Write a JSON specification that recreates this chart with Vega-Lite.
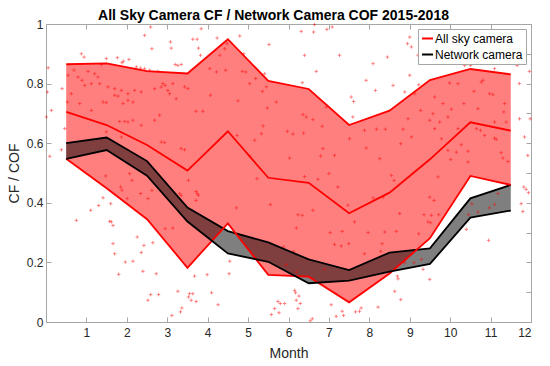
{
  "$schema": "https://vega.github.io/schema/vega-lite/v6.json",
  "autosize": {"type": "none"},
  "width": 485,
  "height": 298,
  "padding": {"left": 46, "top": 24, "right": 19, "bottom": 44},
  "background": "white",
  "title": {"text": "All Sky Camera CF / Network Camera COF 2015-2018", "font": "Liberation Sans", "fontSize": 14, "fontWeight": "bold", "color": "#000000", "anchor": "middle", "dx": -15, "dy": 9, "offset": 4},
  "config": {
    "view": {"stroke": "#a6a6a6", "strokeWidth": 1},
    "font": "Liberation Sans",
    "axis": {"grid": false, "domainColor": "#a6a6a6", "tickColor": "#a6a6a6", "tickSize": -5, "labelColor": "#262626", "labelFontSize": 12, "labelFont": "Liberation Sans", "titleFont": "Liberation Sans", "titleFontSize": 14, "titleFontWeight": "normal", "titleColor": "#262626"}
  },
  "datasets": {
    "bands": [
      {"month": 0.5, "series": "All sky camera", "lo": 0.548, "hi": 0.865, "mid": 0.705},
      {"month": 1.5, "series": "All sky camera", "lo": 0.449, "hi": 0.868, "mid": 0.661},
      {"month": 2.5, "series": "All sky camera", "lo": 0.345, "hi": 0.842, "mid": 0.594},
      {"month": 3.5, "series": "All sky camera", "lo": 0.182, "hi": 0.834, "mid": 0.508},
      {"month": 4.5, "series": "All sky camera", "lo": 0.331, "hi": 0.949, "mid": 0.640},
      {"month": 5.5, "series": "All sky camera", "lo": 0.158, "hi": 0.809, "mid": 0.484},
      {"month": 6.5, "series": "All sky camera", "lo": 0.152, "hi": 0.782, "mid": 0.467},
      {"month": 7.5, "series": "All sky camera", "lo": 0.066, "hi": 0.661, "mid": 0.365},
      {"month": 8.5, "series": "All sky camera", "lo": 0.163, "hi": 0.709, "mid": 0.434},
      {"month": 9.5, "series": "All sky camera", "lo": 0.281, "hi": 0.812, "mid": 0.546},
      {"month": 10.5, "series": "All sky camera", "lo": 0.490, "hi": 0.849, "mid": 0.670},
      {"month": 11.5, "series": "All sky camera", "lo": 0.460, "hi": 0.831, "mid": 0.642},
      {"month": 0.5, "series": "Network camera", "lo": 0.547, "hi": 0.600, "mid": null},
      {"month": 1.5, "series": "Network camera", "lo": 0.577, "hi": 0.619, "mid": null},
      {"month": 2.5, "series": "Network camera", "lo": 0.491, "hi": 0.540, "mid": null},
      {"month": 3.5, "series": "Network camera", "lo": 0.337, "hi": 0.384, "mid": null},
      {"month": 4.5, "series": "Network camera", "lo": 0.230, "hi": 0.305, "mid": null},
      {"month": 5.5, "series": "Network camera", "lo": 0.202, "hi": 0.267, "mid": null},
      {"month": 6.5, "series": "Network camera", "lo": 0.130, "hi": 0.210, "mid": null},
      {"month": 7.5, "series": "Network camera", "lo": 0.139, "hi": 0.174, "mid": null},
      {"month": 8.5, "series": "Network camera", "lo": 0.169, "hi": 0.233, "mid": null},
      {"month": 9.5, "series": "Network camera", "lo": 0.195, "hi": 0.247, "mid": null},
      {"month": 10.5, "series": "Network camera", "lo": 0.350, "hi": 0.415, "mid": null},
      {"month": 11.5, "series": "Network camera", "lo": 0.374, "hi": 0.460, "mid": null}
    ],
    "points": [
      {"month":0.053,"cf":0.853},{"month":0.398,"cf":0.783},{"month":0.036,"cf":0.772},{"month":0.135,"cf":0.710},{"month":0.01,"cf":0.688},{"month":0.382,"cf":0.578},{"month":0.094,"cf":0.556},{"month":0.876,"cf":0.900},{"month":0.942,"cf":0.889},{"month":1.493,"cf":0.884},{"month":1.765,"cf":0.887},{"month":1.880,"cf":0.870},{"month":1.913,"cf":0.875},{"month":2.053,"cf":0.881},{"month":2.440,"cf":0.962},{"month":2.588,"cf":0.990},{"month":2.621,"cf":0.917},{"month":3.082,"cf":0.940},{"month":3.098,"cf":0.919},{"month":3.197,"cf":0.864},{"month":3.262,"cf":0.861},{"month":3.345,"cf":0.864},{"month":3.633,"cf":0.949},{"month":3.740,"cf":0.949},{"month":3.773,"cf":0.919},{"month":3.822,"cf":0.895},{"month":3.839,"cf":0.984},{"month":2.234,"cf":0.856},{"month":2.341,"cf":0.852},{"month":2.440,"cf":0.850},{"month":2.563,"cf":0.845},{"month":2.768,"cf":0.841},{"month":1.370,"cf":0.864},{"month":1.040,"cf":0.841},{"month":1.205,"cf":0.833},{"month":1.287,"cf":0.822},{"month":0.695,"cf":0.845},{"month":0.547,"cf":0.828},{"month":0.793,"cf":0.822},{"month":0.892,"cf":0.811},{"month":0.958,"cf":0.794},{"month":1.123,"cf":0.800},{"month":1.328,"cf":0.800},{"month":1.534,"cf":0.789},{"month":1.699,"cf":0.783},{"month":1.864,"cf":0.777},{"month":2.028,"cf":0.766},{"month":2.193,"cf":0.777},{"month":2.357,"cf":0.772},{"month":2.687,"cf":0.783},{"month":2.851,"cf":0.789},{"month":2.892,"cf":0.800},{"month":2.950,"cf":0.794},{"month":3.016,"cf":0.777},{"month":3.057,"cf":0.766},{"month":3.139,"cf":0.800},{"month":3.222,"cf":0.749},{"month":3.427,"cf":0.789},{"month":3.510,"cf":0.783},{"month":0.629,"cf":0.766},{"month":0.530,"cf":0.738},{"month":0.835,"cf":0.733},{"month":1.411,"cf":0.738},{"month":1.493,"cf":0.736},{"month":1.699,"cf":0.761},{"month":1.781,"cf":0.758},{"month":1.905,"cf":0.733},{"month":2.028,"cf":0.744},{"month":2.152,"cf":0.738},{"month":1.123,"cf":0.710},{"month":1.822,"cf":0.673},{"month":1.946,"cf":0.673},{"month":2.028,"cf":0.671},{"month":2.152,"cf":0.677},{"month":2.357,"cf":0.660},{"month":2.687,"cf":0.677},{"month":2.810,"cf":0.694},{"month":3.715,"cf":0.707},{"month":3.880,"cf":0.707},{"month":0.464,"cf":0.649},{"month":1.493,"cf":0.638},{"month":1.864,"cf":0.621},{"month":2.851,"cf":0.604},{"month":2.933,"cf":0.602},{"month":3.345,"cf":0.582},{"month":3.427,"cf":0.578},
      {"month":4.234,"cf":0.953},{"month":4.794,"cf":0.960},{"month":4.481,"cf":0.934},{"month":4.423,"cf":0.917},{"month":4.300,"cf":0.895},{"month":4.893,"cf":0.900},{"month":5.518,"cf":0.931},{"month":6.316,"cf":0.975},{"month":6.621,"cf":0.973},{"month":6.645,"cf":0.998},{"month":6.950,"cf":0.982},{"month":7.081,"cf":0.990},{"month":6.398,"cf":0.895},{"month":7.263,"cf":0.895},{"month":6.687,"cf":0.841},{"month":7.921,"cf":0.811},{"month":4.053,"cf":0.850},{"month":4.217,"cf":0.839},{"month":4.447,"cf":0.845},{"month":4.859,"cf":0.841},{"month":4.942,"cf":0.839},{"month":5.411,"cf":0.833},{"month":5.189,"cf":0.817},{"month":5.040,"cf":0.800},{"month":5.354,"cf":0.774},{"month":5.453,"cf":0.789},{"month":6.341,"cf":0.803},{"month":4.069,"cf":0.761},{"month":4.752,"cf":0.742},{"month":5.699,"cf":0.738},{"month":5.477,"cf":0.718},{"month":7.551,"cf":0.755},{"month":7.609,"cf":0.740},{"month":6.358,"cf":0.696},{"month":6.440,"cf":0.688},{"month":6.605,"cf":0.679},{"month":6.934,"cf":0.721},{"month":7.592,"cf":0.688},{"month":6.835,"cf":0.657},{"month":5.370,"cf":0.658},{"month":5.329,"cf":0.632},{"month":4.728,"cf":0.626},{"month":5.164,"cf":0.610},{"month":5.971,"cf":0.640},{"month":6.111,"cf":0.631},{"month":6.374,"cf":0.634},{"month":7.510,"cf":0.615},{"month":7.881,"cf":0.643},{"month":6.851,"cf":0.582},{"month":6.794,"cf":0.557},{"month":7.140,"cf":0.559},{"month":7.921,"cf":0.584},{"month":6.028,"cf":0.550},{"month":5.040,"cf":0.557},
      {"month":9.000,"cf":0.956},{"month":8.943,"cf":0.934},{"month":9.041,"cf":0.923},{"month":9.205,"cf":0.895},{"month":9.270,"cf":0.895},{"month":8.447,"cf":0.889},{"month":8.093,"cf":0.867},{"month":8.151,"cf":0.777},{"month":8.588,"cf":0.794},{"month":9.000,"cf":0.828},{"month":10.357,"cf":0.861},{"month":10.505,"cf":0.861},{"month":11.098,"cf":0.850},{"month":11.245,"cf":0.875},{"month":11.410,"cf":0.878},{"month":11.657,"cf":0.861},{"month":11.962,"cf":0.841},{"month":11.712,"cf":0.800},{"month":9.222,"cf":0.796},{"month":9.987,"cf":0.802},{"month":10.193,"cf":0.800},{"month":10.770,"cf":0.805},{"month":10.811,"cf":0.811},{"month":10.588,"cf":0.774},{"month":10.340,"cf":0.733},{"month":10.975,"cf":0.766},{"month":11.058,"cf":0.763},{"month":8.876,"cf":0.772},{"month":9.123,"cf":0.766},{"month":9.617,"cf":0.755},{"month":9.823,"cf":0.733},{"month":9.271,"cf":0.710},{"month":9.576,"cf":0.699},{"month":10.029,"cf":0.714},{"month":11.328,"cf":0.705},{"month":8.958,"cf":0.682},{"month":9.493,"cf":0.677},{"month":9.741,"cf":0.671},{"month":9.946,"cf":0.688},{"month":10.687,"cf":0.716},{"month":11.346,"cf":0.733},{"month":11.716,"cf":0.682},{"month":11.98,"cf":0.682},{"month":8.176,"cf":0.647},{"month":8.398,"cf":0.647},{"month":8.835,"cf":0.647},{"month":9.617,"cf":0.649},{"month":10.193,"cf":0.649},{"month":11.098,"cf":0.671},{"month":11.386,"cf":0.671},{"month":10.653,"cf":0.649},{"month":10.852,"cf":0.626},{"month":11.098,"cf":0.617},{"month":11.140,"cf":0.613},{"month":10.752,"cf":0.643},{"month":8.258,"cf":0.548},{"month":8.777,"cf":0.598},{"month":9.041,"cf":0.621},{"month":9.782,"cf":0.615},{"month":9.946,"cf":0.576},{"month":10.152,"cf":0.570},{"month":10.275,"cf":0.595},{"month":10.440,"cf":0.573},{"month":11.263,"cf":0.568},{"month":11.304,"cf":0.550},{"month":11.428,"cf":0.539},{"month":10.012,"cf":0.545},{"month":10.440,"cf":0.537},{"month":11.839,"cf":0.621},{"month":11.921,"cf":0.559},
      {"month":0.752,"cf":0.341},{"month":1.106,"cf":0.375},{"month":1.304,"cf":0.391},{"month":1.411,"cf":0.417},{"month":1.600,"cf":0.397},{"month":1.575,"cf":0.338},{"month":1.616,"cf":0.336},{"month":1.658,"cf":0.324},{"month":1.658,"cf":0.263},{"month":1.699,"cf":0.229},{"month":1.798,"cf":0.160},{"month":1.962,"cf":0.201},{"month":2.152,"cf":0.204},{"month":2.258,"cf":0.285},{"month":2.423,"cf":0.257},{"month":2.357,"cf":0.233},{"month":2.398,"cf":0.170},{"month":2.645,"cf":0.266},{"month":2.728,"cf":0.162},{"month":2.588,"cf":0.092},{"month":2.522,"cf":0.073},{"month":2.785,"cf":0.092},{"month":3.263,"cf":0.103},{"month":3.114,"cf":0.022},{"month":3.328,"cf":0.034},{"month":3.361,"cf":0.047},{"month":3.551,"cf":0.095},{"month":3.633,"cf":0.095},{"month":3.526,"cf":0.084},{"month":3.592,"cf":0.073},{"month":3.715,"cf":0.069},{"month":3.674,"cf":0.154},{"month":3.987,"cf":0.159},{"month":1.477,"cf":0.490},{"month":1.847,"cf":0.453},{"month":1.880,"cf":0.442},{"month":2.012,"cf":0.414},{"month":2.127,"cf":0.475},{"month":2.069,"cf":0.498},{"month":2.341,"cf":0.431},{"month":2.522,"cf":0.414},{"month":2.621,"cf":0.442},{"month":2.950,"cf":0.313},{"month":3.139,"cf":0.315},{"month":3.304,"cf":0.431},{"month":3.345,"cf":0.425},{"month":3.526,"cf":0.475},{"month":3.715,"cf":0.438},{"month":3.740,"cf":0.431},{"month":3.773,"cf":0.425},{"month":3.715,"cf":0.408},
      {"month":5.221,"cf":0.481},{"month":6.398,"cf":0.488},{"month":6.728,"cf":0.479},{"month":6.999,"cf":0.498},{"month":7.221,"cf":0.453},{"month":4.711,"cf":0.383},{"month":5.551,"cf":0.394},{"month":6.234,"cf":0.360},{"month":6.341,"cf":0.358},{"month":6.604,"cf":0.375},{"month":7.468,"cf":0.392},{"month":7.633,"cf":0.336},{"month":6.193,"cf":0.315},{"month":7.032,"cf":0.300},{"month":7.328,"cf":0.304},{"month":7.139,"cf":0.260},{"month":7.304,"cf":0.255},{"month":7.493,"cf":0.263},{"month":5.880,"cf":0.252},{"month":6.127,"cf":0.237},{"month":5.946,"cf":0.192},{"month":6.193,"cf":0.168},{"month":6.892,"cf":0.177},{"month":7.880,"cf":0.229},{"month":4.547,"cf":0.204},{"month":4.531,"cf":0.162},{"month":4.259,"cf":0.058},{"month":4.094,"cf":0.098},{"month":6.152,"cf":0.106},{"month":6.176,"cf":0.098},{"month":6.258,"cf":0.087},{"month":6.193,"cf":0.073},{"month":6.292,"cf":0.062},{"month":6.234,"cf":0.045},{"month":5.740,"cf":0.069},{"month":5.797,"cf":0.062},{"month":5.904,"cf":0.062},{"month":5.658,"cf":0.045},{"month":5.765,"cf":0.031},{"month":5.575,"cf":0.025},{"month":7.057,"cf":0.058},{"month":7.328,"cf":0.036},{"month":7.180,"cf":0.019},{"month":7.362,"cf":0.022},{"month":7.658,"cf":0.034},{"month":7.757,"cf":0.036},{"month":7.798,"cf":0.047},{"month":6.538,"cf":0.004},{"month":6.588,"cf":0.011},
      {"month":8.547,"cf":0.492},{"month":8.613,"cf":0.475},{"month":9.699,"cf":0.487},{"month":8.094,"cf":0.416},{"month":8.341,"cf":0.419},{"month":9.494,"cf":0.419},{"month":9.601,"cf":0.408},{"month":8.752,"cf":0.364},{"month":9.353,"cf":0.360},{"month":9.534,"cf":0.358},{"month":9.715,"cf":0.360},{"month":9.452,"cf":0.336},{"month":9.518,"cf":0.333},{"month":7.970,"cf":0.300},{"month":8.382,"cf":0.302},{"month":8.670,"cf":0.304},{"month":9.222,"cf":0.296},{"month":8.316,"cf":0.263},{"month":8.283,"cf":0.237},{"month":8.876,"cf":0.199},{"month":9.107,"cf":0.199},{"month":9.288,"cf":0.210},{"month":9.329,"cf":0.177},{"month":8.694,"cf":0.154},{"month":8.711,"cf":0.145},{"month":9.494,"cf":0.143},{"month":8.629,"cf":0.103},{"month":8.777,"cf":0.075},{"month":8.217,"cf":0.050},{"month":10.399,"cf":0.311},{"month":10.538,"cf":0.397},{"month":10.686,"cf":0.369},{"month":10.456,"cf":0.360},{"month":10.967,"cf":0.383},{"month":11.099,"cf":0.394},{"month":11.181,"cf":0.431},{"month":10.951,"cf":0.274},{"month":11.757,"cf":0.397},{"month":11.798,"cf":0.371},{"month":11.823,"cf":0.453},{"month":11.880,"cf":0.445},{"month":11.938,"cf":0.434},{"month":11.427,"cf":0.459}
    ]
  },
  "layer": [
    {
      "layer": [
        {
          "data": {"name": "bands"},
          "mark": {"type": "area", "opacity": 0.5},
          "encoding": {
            "x": {"field": "month", "type": "quantitative", "scale": {"domain": [0, 12], "nice": false, "zero": false}, "axis": {"values": [1,2,3,4,5,6,7,8,9,10,11,12], "title": "Month", "labelPadding": 10, "titlePadding": 8, "domain": false}},
            "y": {"field": "lo", "type": "quantitative", "scale": {"domain": [0, 1], "nice": false}, "axis": {"values": [0,0.1,0.2,0.3,0.4,0.5,0.6,0.7,0.8,0.9,1], "format": ".1~f", "title": "CF / COF", "labelPadding": 8, "titlePadding": 5, "domain": false}},
            "y2": {"field": "hi"},
            "color": {"field": "series", "type": "nominal", "scale": {"domain": ["All sky camera", "Network camera"], "range": ["#ff0000", "#000000"]},
              "legend": {"title": null, "orient": "none", "legendX": 372, "legendY": 5, "symbolType": "stroke", "symbolSize": 121, "symbolStrokeWidth": 2, "symbolOpacity": 1, "labelFontSize": 12, "labelFont": "Liberation Sans", "labelColor": "#000000", "labelOffset": 1, "padding": 3, "rowPadding": 3, "fillColor": "#ffffff", "strokeColor": "#a6a6a6"}}
          }
        },
        {
          "data": {"name": "points"},
          "mark": {"type": "point", "shape": "M-1,0H1M0,-1V1", "size": 12, "filled": false, "stroke": "#ff0000", "strokeWidth": 0.7, "opacity": 0.65},
          "encoding": {
            "x": {"field": "month", "type": "quantitative"},
            "y": {"field": "cf", "type": "quantitative"}
          }
        },
        {
          "data": {"name": "bands"},
          "mark": {"type": "line", "strokeWidth": 1.8},
          "encoding": {
            "x": {"field": "month", "type": "quantitative"},
            "y": {"field": "hi", "type": "quantitative"},
            "color": {"field": "series", "type": "nominal"}
          }
        },
        {
          "data": {"name": "bands"},
          "mark": {"type": "line", "strokeWidth": 1.8},
          "encoding": {
            "x": {"field": "month", "type": "quantitative"},
            "y": {"field": "lo", "type": "quantitative"},
            "color": {"field": "series", "type": "nominal"}
          }
        },
        {
          "data": {"name": "bands"},
          "mark": {"type": "line", "strokeWidth": 1.8},
          "encoding": {
            "x": {"field": "month", "type": "quantitative"},
            "y": {"field": "mid", "type": "quantitative"},
            "color": {"field": "series", "type": "nominal"}
          }
        }
      ]
    },
    {
      "data": {"name": "points"},
      "mark": {"type": "point", "opacity": 0},
      "encoding": {
        "x": {"field": "month", "type": "quantitative", "scale": {"domain": [0, 12], "nice": false, "zero": false}, "axis": {"orient": "top", "values": [1,2,3,4,5,6,7,8,9,10,11,12], "labels": false, "title": null, "domain": false}},
        "y": {"field": "cf", "type": "quantitative", "scale": {"domain": [0, 1], "nice": false}, "axis": {"orient": "right", "values": [0,0.1,0.2,0.3,0.4,0.5,0.6,0.7,0.8,0.9,1], "labels": false, "title": null, "domain": false}}
      }
    }
  ],
  "resolve": {"scale": {"x": "independent", "y": "independent"}, "axis": {"x": "independent", "y": "independent"}}
}
